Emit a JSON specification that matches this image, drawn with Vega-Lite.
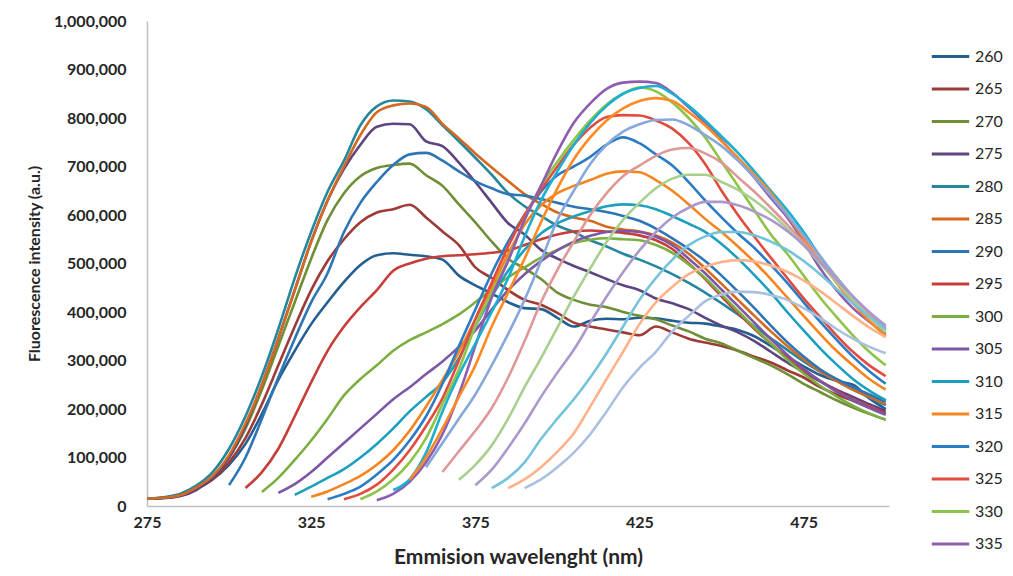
{
"$schema":"https://vega.github.io/schema/vega-lite/v6.json",
"width":742,"height":485,
"autosize":{"type":"none"},
"padding":{"left":147,"top":21,"right":124,"bottom":70},
"background":"white",
"data":{"values":[
{"e":260,"w":275,"v":15000},{"e":260,"w":280,"v":17000},{"e":260,"w":285,"v":23000},{"e":260,"w":290,"v":36000},{"e":260,"w":295,"v":55000},{"e":260,"w":300,"v":85000},{"e":260,"w":305,"v":128000},{"e":260,"w":310,"v":190000},{"e":260,"w":315,"v":260000},{"e":260,"w":320,"v":320000},{"e":260,"w":325,"v":375000},{"e":260,"w":330,"v":420000},{"e":260,"w":335,"v":462000},{"e":260,"w":340,"v":497000},{"e":260,"w":345,"v":517000},{"e":260,"w":350,"v":521000},{"e":260,"w":355,"v":518000},{"e":260,"w":360,"v":515000},{"e":260,"w":365,"v":508000},{"e":260,"w":370,"v":475000},{"e":260,"w":375,"v":455000},{"e":260,"w":380,"v":438000},{"e":260,"w":385,"v":420000},{"e":260,"w":390,"v":408000},{"e":260,"w":395,"v":406000},{"e":260,"w":400,"v":388000},{"e":260,"w":405,"v":370000},{"e":260,"w":410,"v":382000},{"e":260,"w":415,"v":386000},{"e":260,"w":420,"v":385000},{"e":260,"w":425,"v":388000},{"e":260,"w":430,"v":387000},{"e":260,"w":435,"v":382000},{"e":260,"w":440,"v":378000},{"e":260,"w":445,"v":376000},{"e":260,"w":450,"v":370000},{"e":260,"w":455,"v":363000},{"e":260,"w":460,"v":350000},{"e":260,"w":465,"v":330000},{"e":260,"w":470,"v":308000},{"e":260,"w":475,"v":288000},{"e":260,"w":480,"v":270000},{"e":260,"w":485,"v":258000},{"e":260,"w":490,"v":250000},{"e":260,"w":495,"v":222000},{"e":260,"w":500,"v":200000},
{"e":265,"w":275,"v":15000},{"e":265,"w":280,"v":17000},{"e":265,"w":285,"v":22000},{"e":265,"w":290,"v":35000},{"e":265,"w":295,"v":55000},{"e":265,"w":300,"v":90000},{"e":265,"w":305,"v":140000},{"e":265,"w":310,"v":210000},{"e":265,"w":315,"v":290000},{"e":265,"w":320,"v":370000},{"e":265,"w":325,"v":445000},{"e":265,"w":330,"v":505000},{"e":265,"w":335,"v":550000},{"e":265,"w":340,"v":585000},{"e":265,"w":345,"v":605000},{"e":265,"w":350,"v":612000},{"e":265,"w":355,"v":621000},{"e":265,"w":360,"v":595000},{"e":265,"w":365,"v":566000},{"e":265,"w":370,"v":538000},{"e":265,"w":375,"v":492000},{"e":265,"w":380,"v":470000},{"e":265,"w":385,"v":445000},{"e":265,"w":390,"v":425000},{"e":265,"w":395,"v":415000},{"e":265,"w":400,"v":398000},{"e":265,"w":405,"v":378000},{"e":265,"w":410,"v":370000},{"e":265,"w":415,"v":364000},{"e":265,"w":420,"v":358000},{"e":265,"w":425,"v":352000},{"e":265,"w":430,"v":370000},{"e":265,"w":435,"v":358000},{"e":265,"w":440,"v":345000},{"e":265,"w":445,"v":337000},{"e":265,"w":450,"v":330000},{"e":265,"w":455,"v":320000},{"e":265,"w":460,"v":308000},{"e":265,"w":465,"v":296000},{"e":265,"w":470,"v":280000},{"e":265,"w":475,"v":265000},{"e":265,"w":480,"v":245000},{"e":265,"w":485,"v":230000},{"e":265,"w":490,"v":217000},{"e":265,"w":495,"v":203000},{"e":265,"w":500,"v":192000},
{"e":270,"w":275,"v":15000},{"e":270,"w":280,"v":17000},{"e":270,"w":285,"v":22000},{"e":270,"w":290,"v":37000},{"e":270,"w":295,"v":60000},{"e":270,"w":300,"v":100000},{"e":270,"w":305,"v":160000},{"e":270,"w":310,"v":240000},{"e":270,"w":315,"v":330000},{"e":270,"w":320,"v":420000},{"e":270,"w":325,"v":510000},{"e":270,"w":330,"v":590000},{"e":270,"w":335,"v":645000},{"e":270,"w":340,"v":680000},{"e":270,"w":345,"v":697000},{"e":270,"w":350,"v":703000},{"e":270,"w":355,"v":706000},{"e":270,"w":360,"v":682000},{"e":270,"w":365,"v":660000},{"e":270,"w":370,"v":622000},{"e":270,"w":375,"v":585000},{"e":270,"w":380,"v":545000},{"e":270,"w":385,"v":510000},{"e":270,"w":390,"v":490000},{"e":270,"w":395,"v":468000},{"e":270,"w":400,"v":440000},{"e":270,"w":405,"v":425000},{"e":270,"w":410,"v":415000},{"e":270,"w":415,"v":410000},{"e":270,"w":420,"v":400000},{"e":270,"w":425,"v":392000},{"e":270,"w":430,"v":385000},{"e":270,"w":435,"v":372000},{"e":270,"w":440,"v":360000},{"e":270,"w":445,"v":345000},{"e":270,"w":450,"v":335000},{"e":270,"w":455,"v":320000},{"e":270,"w":460,"v":305000},{"e":270,"w":465,"v":290000},{"e":270,"w":470,"v":272000},{"e":270,"w":475,"v":252000},{"e":270,"w":480,"v":235000},{"e":270,"w":485,"v":218000},{"e":270,"w":490,"v":203000},{"e":270,"w":495,"v":190000},{"e":270,"w":500,"v":178000},
{"e":275,"w":275,"v":15000},{"e":275,"w":280,"v":16000},{"e":275,"w":285,"v":20000},{"e":275,"w":290,"v":33000},{"e":275,"w":295,"v":58000},{"e":275,"w":300,"v":100000},{"e":275,"w":305,"v":165000},{"e":275,"w":310,"v":250000},{"e":275,"w":315,"v":345000},{"e":275,"w":320,"v":445000},{"e":275,"w":325,"v":545000},{"e":275,"w":330,"v":630000},{"e":275,"w":335,"v":695000},{"e":275,"w":340,"v":745000},{"e":275,"w":345,"v":782000},{"e":275,"w":350,"v":788000},{"e":275,"w":355,"v":787000},{"e":275,"w":360,"v":752000},{"e":275,"w":365,"v":742000},{"e":275,"w":370,"v":708000},{"e":275,"w":375,"v":668000},{"e":275,"w":380,"v":625000},{"e":275,"w":385,"v":583000},{"e":275,"w":390,"v":560000},{"e":275,"w":395,"v":528000},{"e":275,"w":400,"v":510000},{"e":275,"w":405,"v":495000},{"e":275,"w":410,"v":482000},{"e":275,"w":415,"v":468000},{"e":275,"w":420,"v":455000},{"e":275,"w":425,"v":445000},{"e":275,"w":430,"v":428000},{"e":275,"w":435,"v":418000},{"e":275,"w":440,"v":406000},{"e":275,"w":445,"v":388000},{"e":275,"w":450,"v":372000},{"e":275,"w":455,"v":358000},{"e":275,"w":460,"v":340000},{"e":275,"w":465,"v":318000},{"e":275,"w":470,"v":296000},{"e":275,"w":475,"v":276000},{"e":275,"w":480,"v":257000},{"e":275,"w":485,"v":240000},{"e":275,"w":490,"v":225000},{"e":275,"w":495,"v":210000},{"e":275,"w":500,"v":196000},
{"e":280,"w":275,"v":15000},{"e":280,"w":280,"v":18000},{"e":280,"w":285,"v":25000},{"e":280,"w":290,"v":42000},{"e":280,"w":295,"v":70000},{"e":280,"w":300,"v":118000},{"e":280,"w":305,"v":185000},{"e":280,"w":310,"v":268000},{"e":280,"w":315,"v":365000},{"e":280,"w":320,"v":470000},{"e":280,"w":325,"v":565000},{"e":280,"w":330,"v":648000},{"e":280,"w":335,"v":712000},{"e":280,"w":340,"v":785000},{"e":280,"w":345,"v":824000},{"e":280,"w":350,"v":836000},{"e":280,"w":355,"v":834000},{"e":280,"w":360,"v":818000},{"e":280,"w":365,"v":785000},{"e":280,"w":370,"v":752000},{"e":280,"w":375,"v":718000},{"e":280,"w":380,"v":683000},{"e":280,"w":385,"v":645000},{"e":280,"w":390,"v":618000},{"e":280,"w":395,"v":598000},{"e":280,"w":400,"v":578000},{"e":280,"w":405,"v":565000},{"e":280,"w":410,"v":548000},{"e":280,"w":415,"v":535000},{"e":280,"w":420,"v":520000},{"e":280,"w":425,"v":508000},{"e":280,"w":430,"v":494000},{"e":280,"w":435,"v":478000},{"e":280,"w":440,"v":460000},{"e":280,"w":445,"v":440000},{"e":280,"w":450,"v":418000},{"e":280,"w":455,"v":395000},{"e":280,"w":460,"v":370000},{"e":280,"w":465,"v":346000},{"e":280,"w":470,"v":322000},{"e":280,"w":475,"v":298000},{"e":280,"w":480,"v":277000},{"e":280,"w":485,"v":258000},{"e":280,"w":490,"v":240000},{"e":280,"w":495,"v":224000},{"e":280,"w":500,"v":208000},
{"e":285,"w":275,"v":15000},{"e":285,"w":280,"v":17000},{"e":285,"w":285,"v":22000},{"e":285,"w":290,"v":38000},{"e":285,"w":295,"v":62000},{"e":285,"w":300,"v":105000},{"e":285,"w":305,"v":170000},{"e":285,"w":310,"v":250000},{"e":285,"w":315,"v":345000},{"e":285,"w":320,"v":445000},{"e":285,"w":325,"v":545000},{"e":285,"w":330,"v":630000},{"e":285,"w":335,"v":700000},{"e":285,"w":340,"v":765000},{"e":285,"w":345,"v":812000},{"e":285,"w":350,"v":826000},{"e":285,"w":355,"v":830000},{"e":285,"w":360,"v":823000},{"e":285,"w":365,"v":788000},{"e":285,"w":370,"v":758000},{"e":285,"w":375,"v":727000},{"e":285,"w":380,"v":698000},{"e":285,"w":385,"v":670000},{"e":285,"w":390,"v":643000},{"e":285,"w":395,"v":623000},{"e":285,"w":400,"v":605000},{"e":285,"w":405,"v":595000},{"e":285,"w":410,"v":588000},{"e":285,"w":415,"v":576000},{"e":285,"w":420,"v":570000},{"e":285,"w":425,"v":566000},{"e":285,"w":430,"v":558000},{"e":285,"w":435,"v":543000},{"e":285,"w":440,"v":520000},{"e":285,"w":445,"v":490000},{"e":285,"w":450,"v":458000},{"e":285,"w":455,"v":425000},{"e":285,"w":460,"v":392000},{"e":285,"w":465,"v":360000},{"e":285,"w":470,"v":330000},{"e":285,"w":475,"v":302000},{"e":285,"w":480,"v":278000},{"e":285,"w":485,"v":258000},{"e":285,"w":490,"v":240000},{"e":285,"w":495,"v":225000},{"e":285,"w":500,"v":210000},
{"e":290,"w":300,"v":43000},{"e":290,"w":305,"v":100000},{"e":290,"w":310,"v":180000},{"e":290,"w":315,"v":265000},{"e":290,"w":320,"v":345000},{"e":290,"w":325,"v":420000},{"e":290,"w":330,"v":480000},{"e":290,"w":335,"v":565000},{"e":290,"w":340,"v":625000},{"e":290,"w":345,"v":668000},{"e":290,"w":350,"v":703000},{"e":290,"w":355,"v":725000},{"e":290,"w":360,"v":728000},{"e":290,"w":365,"v":712000},{"e":290,"w":370,"v":690000},{"e":290,"w":375,"v":670000},{"e":290,"w":380,"v":655000},{"e":290,"w":385,"v":643000},{"e":290,"w":390,"v":640000},{"e":290,"w":395,"v":633000},{"e":290,"w":400,"v":625000},{"e":290,"w":405,"v":617000},{"e":290,"w":410,"v":612000},{"e":290,"w":415,"v":606000},{"e":290,"w":420,"v":598000},{"e":290,"w":425,"v":588000},{"e":290,"w":430,"v":572000},{"e":290,"w":435,"v":552000},{"e":290,"w":440,"v":530000},{"e":290,"w":445,"v":505000},{"e":290,"w":450,"v":475000},{"e":290,"w":455,"v":442000},{"e":290,"w":460,"v":408000},{"e":290,"w":465,"v":372000},{"e":290,"w":470,"v":338000},{"e":290,"w":475,"v":308000},{"e":290,"w":480,"v":282000},{"e":290,"w":485,"v":262000},{"e":290,"w":490,"v":245000},{"e":290,"w":495,"v":230000},{"e":290,"w":500,"v":215000},
{"e":295,"w":305,"v":37000},{"e":295,"w":310,"v":70000},{"e":295,"w":315,"v":118000},{"e":295,"w":320,"v":185000},{"e":295,"w":325,"v":255000},{"e":295,"w":330,"v":320000},{"e":295,"w":335,"v":370000},{"e":295,"w":340,"v":410000},{"e":295,"w":345,"v":445000},{"e":295,"w":350,"v":485000},{"e":295,"w":355,"v":500000},{"e":295,"w":360,"v":510000},{"e":295,"w":365,"v":515000},{"e":295,"w":370,"v":517000},{"e":295,"w":375,"v":519000},{"e":295,"w":380,"v":522000},{"e":295,"w":385,"v":527000},{"e":295,"w":390,"v":538000},{"e":295,"w":395,"v":550000},{"e":295,"w":400,"v":560000},{"e":295,"w":405,"v":566000},{"e":295,"w":410,"v":568000},{"e":295,"w":415,"v":566000},{"e":295,"w":420,"v":563000},{"e":295,"w":425,"v":558000},{"e":295,"w":430,"v":548000},{"e":295,"w":435,"v":530000},{"e":295,"w":440,"v":500000},{"e":295,"w":445,"v":468000},{"e":295,"w":450,"v":432000},{"e":295,"w":455,"v":398000},{"e":295,"w":460,"v":365000},{"e":295,"w":465,"v":335000},{"e":295,"w":470,"v":305000},{"e":295,"w":475,"v":280000},{"e":295,"w":480,"v":258000},{"e":295,"w":485,"v":238000},{"e":295,"w":490,"v":220000},{"e":295,"w":495,"v":205000},{"e":295,"w":500,"v":190000},
{"e":300,"w":310,"v":29000},{"e":300,"w":315,"v":58000},{"e":300,"w":320,"v":95000},{"e":300,"w":325,"v":135000},{"e":300,"w":330,"v":180000},{"e":300,"w":335,"v":228000},{"e":300,"w":340,"v":262000},{"e":300,"w":345,"v":290000},{"e":300,"w":350,"v":320000},{"e":300,"w":355,"v":342000},{"e":300,"w":360,"v":358000},{"e":300,"w":365,"v":375000},{"e":300,"w":370,"v":395000},{"e":300,"w":375,"v":420000},{"e":300,"w":380,"v":447000},{"e":300,"w":385,"v":472000},{"e":300,"w":390,"v":492000},{"e":300,"w":395,"v":512000},{"e":300,"w":400,"v":528000},{"e":300,"w":405,"v":542000},{"e":300,"w":410,"v":549000},{"e":300,"w":415,"v":552000},{"e":300,"w":420,"v":550000},{"e":300,"w":425,"v":548000},{"e":300,"w":430,"v":538000},{"e":300,"w":435,"v":522000},{"e":300,"w":440,"v":498000},{"e":300,"w":445,"v":470000},{"e":300,"w":450,"v":436000},{"e":300,"w":455,"v":402000},{"e":300,"w":460,"v":368000},{"e":300,"w":465,"v":335000},{"e":300,"w":470,"v":302000},{"e":300,"w":475,"v":273000},{"e":300,"w":480,"v":248000},{"e":300,"w":485,"v":226000},{"e":300,"w":490,"v":207000},{"e":300,"w":495,"v":191000},{"e":300,"w":500,"v":178000},
{"e":305,"w":315,"v":27000},{"e":305,"w":320,"v":45000},{"e":305,"w":325,"v":70000},{"e":305,"w":330,"v":100000},{"e":305,"w":335,"v":130000},{"e":305,"w":340,"v":160000},{"e":305,"w":345,"v":190000},{"e":305,"w":350,"v":220000},{"e":305,"w":355,"v":245000},{"e":305,"w":360,"v":272000},{"e":305,"w":365,"v":298000},{"e":305,"w":370,"v":328000},{"e":305,"w":375,"v":362000},{"e":305,"w":380,"v":405000},{"e":305,"w":385,"v":445000},{"e":305,"w":390,"v":478000},{"e":305,"w":395,"v":505000},{"e":305,"w":400,"v":527000},{"e":305,"w":405,"v":545000},{"e":305,"w":410,"v":557000},{"e":305,"w":415,"v":565000},{"e":305,"w":420,"v":567000},{"e":305,"w":425,"v":565000},{"e":305,"w":430,"v":555000},{"e":305,"w":435,"v":538000},{"e":305,"w":440,"v":510000},{"e":305,"w":445,"v":480000},{"e":305,"w":450,"v":446000},{"e":305,"w":455,"v":412000},{"e":305,"w":460,"v":378000},{"e":305,"w":465,"v":344000},{"e":305,"w":470,"v":312000},{"e":305,"w":475,"v":283000},{"e":305,"w":480,"v":258000},{"e":305,"w":485,"v":236000},{"e":305,"w":490,"v":218000},{"e":305,"w":495,"v":202000},{"e":305,"w":500,"v":188000},
{"e":310,"w":320,"v":23000},{"e":310,"w":325,"v":40000},{"e":310,"w":330,"v":58000},{"e":310,"w":335,"v":76000},{"e":310,"w":340,"v":100000},{"e":310,"w":345,"v":128000},{"e":310,"w":350,"v":160000},{"e":310,"w":355,"v":195000},{"e":310,"w":360,"v":225000},{"e":310,"w":365,"v":255000},{"e":310,"w":370,"v":305000},{"e":310,"w":375,"v":370000},{"e":310,"w":380,"v":432000},{"e":310,"w":385,"v":485000},{"e":310,"w":390,"v":528000},{"e":310,"w":395,"v":562000},{"e":310,"w":400,"v":583000},{"e":310,"w":405,"v":597000},{"e":310,"w":410,"v":608000},{"e":310,"w":415,"v":618000},{"e":310,"w":420,"v":622000},{"e":310,"w":425,"v":620000},{"e":310,"w":430,"v":612000},{"e":310,"w":435,"v":598000},{"e":310,"w":440,"v":582000},{"e":310,"w":445,"v":565000},{"e":310,"w":450,"v":540000},{"e":310,"w":455,"v":510000},{"e":310,"w":460,"v":476000},{"e":310,"w":465,"v":440000},{"e":310,"w":470,"v":400000},{"e":310,"w":475,"v":362000},{"e":310,"w":480,"v":325000},{"e":310,"w":485,"v":292000},{"e":310,"w":490,"v":262000},{"e":310,"w":495,"v":238000},{"e":310,"w":500,"v":218000},
{"e":315,"w":325,"v":19000},{"e":315,"w":330,"v":30000},{"e":315,"w":335,"v":45000},{"e":315,"w":340,"v":62000},{"e":315,"w":345,"v":85000},{"e":315,"w":350,"v":115000},{"e":315,"w":355,"v":155000},{"e":315,"w":360,"v":205000},{"e":315,"w":365,"v":260000},{"e":315,"w":370,"v":318000},{"e":315,"w":375,"v":385000},{"e":315,"w":380,"v":450000},{"e":315,"w":385,"v":520000},{"e":315,"w":390,"v":580000},{"e":315,"w":395,"v":620000},{"e":315,"w":400,"v":645000},{"e":315,"w":405,"v":660000},{"e":315,"w":410,"v":672000},{"e":315,"w":415,"v":685000},{"e":315,"w":420,"v":690000},{"e":315,"w":425,"v":688000},{"e":315,"w":430,"v":672000},{"e":315,"w":435,"v":650000},{"e":315,"w":440,"v":622000},{"e":315,"w":445,"v":592000},{"e":315,"w":450,"v":565000},{"e":315,"w":455,"v":535000},{"e":315,"w":460,"v":503000},{"e":315,"w":465,"v":468000},{"e":315,"w":470,"v":430000},{"e":315,"w":475,"v":392000},{"e":315,"w":480,"v":355000},{"e":315,"w":485,"v":320000},{"e":315,"w":490,"v":290000},{"e":315,"w":495,"v":262000},{"e":315,"w":500,"v":240000},
{"e":320,"w":330,"v":14000},{"e":320,"w":335,"v":25000},{"e":320,"w":340,"v":40000},{"e":320,"w":345,"v":65000},{"e":320,"w":350,"v":95000},{"e":320,"w":355,"v":135000},{"e":320,"w":360,"v":185000},{"e":320,"w":365,"v":252000},{"e":320,"w":370,"v":330000},{"e":320,"w":375,"v":405000},{"e":320,"w":380,"v":480000},{"e":320,"w":385,"v":545000},{"e":320,"w":390,"v":600000},{"e":320,"w":395,"v":648000},{"e":320,"w":400,"v":682000},{"e":320,"w":405,"v":700000},{"e":320,"w":410,"v":720000},{"e":320,"w":415,"v":745000},{"e":320,"w":420,"v":760000},{"e":320,"w":425,"v":748000},{"e":320,"w":430,"v":725000},{"e":320,"w":435,"v":702000},{"e":320,"w":440,"v":668000},{"e":320,"w":445,"v":630000},{"e":320,"w":450,"v":595000},{"e":320,"w":455,"v":562000},{"e":320,"w":460,"v":532000},{"e":320,"w":465,"v":497000},{"e":320,"w":470,"v":460000},{"e":320,"w":475,"v":420000},{"e":320,"w":480,"v":380000},{"e":320,"w":485,"v":343000},{"e":320,"w":490,"v":308000},{"e":320,"w":495,"v":278000},{"e":320,"w":500,"v":252000},
{"e":325,"w":335,"v":14000},{"e":325,"w":340,"v":25000},{"e":325,"w":345,"v":44000},{"e":325,"w":350,"v":75000},{"e":325,"w":355,"v":115000},{"e":325,"w":360,"v":165000},{"e":325,"w":365,"v":222000},{"e":325,"w":370,"v":300000},{"e":325,"w":375,"v":385000},{"e":325,"w":380,"v":460000},{"e":325,"w":385,"v":535000},{"e":325,"w":390,"v":600000},{"e":325,"w":395,"v":652000},{"e":325,"w":400,"v":700000},{"e":325,"w":405,"v":745000},{"e":325,"w":410,"v":780000},{"e":325,"w":415,"v":802000},{"e":325,"w":420,"v":806000},{"e":325,"w":425,"v":805000},{"e":325,"w":430,"v":795000},{"e":325,"w":435,"v":778000},{"e":325,"w":440,"v":748000},{"e":325,"w":445,"v":705000},{"e":325,"w":450,"v":650000},{"e":325,"w":455,"v":600000},{"e":325,"w":460,"v":555000},{"e":325,"w":465,"v":512000},{"e":325,"w":470,"v":470000},{"e":325,"w":475,"v":428000},{"e":325,"w":480,"v":390000},{"e":325,"w":485,"v":352000},{"e":325,"w":490,"v":318000},{"e":325,"w":495,"v":290000},{"e":325,"w":500,"v":268000},
{"e":330,"w":340,"v":14000},{"e":330,"w":345,"v":30000},{"e":330,"w":350,"v":55000},{"e":330,"w":355,"v":90000},{"e":330,"w":360,"v":140000},{"e":330,"w":365,"v":210000},{"e":330,"w":370,"v":282000},{"e":330,"w":375,"v":370000},{"e":330,"w":380,"v":440000},{"e":330,"w":385,"v":508000},{"e":330,"w":390,"v":590000},{"e":330,"w":395,"v":660000},{"e":330,"w":400,"v":710000},{"e":330,"w":405,"v":755000},{"e":330,"w":410,"v":795000},{"e":330,"w":415,"v":828000},{"e":330,"w":420,"v":850000},{"e":330,"w":425,"v":863000},{"e":330,"w":430,"v":855000},{"e":330,"w":435,"v":832000},{"e":330,"w":440,"v":800000},{"e":330,"w":445,"v":760000},{"e":330,"w":450,"v":710000},{"e":330,"w":455,"v":660000},{"e":330,"w":460,"v":610000},{"e":330,"w":465,"v":560000},{"e":330,"w":470,"v":520000},{"e":330,"w":475,"v":475000},{"e":330,"w":480,"v":430000},{"e":330,"w":485,"v":390000},{"e":330,"w":490,"v":352000},{"e":330,"w":495,"v":318000},{"e":330,"w":500,"v":290000},
{"e":335,"w":345,"v":12000},{"e":335,"w":350,"v":25000},{"e":335,"w":355,"v":50000},{"e":335,"w":360,"v":90000},{"e":335,"w":365,"v":148000},{"e":335,"w":370,"v":230000},{"e":335,"w":375,"v":330000},{"e":335,"w":380,"v":430000},{"e":335,"w":385,"v":505000},{"e":335,"w":390,"v":590000},{"e":335,"w":395,"v":660000},{"e":335,"w":400,"v":730000},{"e":335,"w":405,"v":790000},{"e":335,"w":410,"v":830000},{"e":335,"w":415,"v":860000},{"e":335,"w":420,"v":873000},{"e":335,"w":425,"v":875000},{"e":335,"w":430,"v":872000},{"e":335,"w":435,"v":852000},{"e":335,"w":440,"v":822000},{"e":335,"w":445,"v":790000},{"e":335,"w":450,"v":755000},{"e":335,"w":455,"v":715000},{"e":335,"w":460,"v":677000},{"e":335,"w":465,"v":635000},{"e":335,"w":470,"v":595000},{"e":335,"w":475,"v":545000},{"e":335,"w":480,"v":490000},{"e":335,"w":485,"v":445000},{"e":335,"w":490,"v":408000},{"e":335,"w":495,"v":380000},{"e":335,"w":500,"v":355000},
{"e":340,"w":350,"v":33000},{"e":340,"w":355,"v":55000},{"e":340,"w":360,"v":110000},{"e":340,"w":365,"v":195000},{"e":340,"w":370,"v":270000},{"e":340,"w":375,"v":335000},{"e":340,"w":380,"v":400000},{"e":340,"w":385,"v":470000},{"e":340,"w":390,"v":555000},{"e":340,"w":395,"v":630000},{"e":340,"w":400,"v":690000},{"e":340,"w":405,"v":745000},{"e":340,"w":410,"v":790000},{"e":340,"w":415,"v":825000},{"e":340,"w":420,"v":850000},{"e":340,"w":425,"v":862000},{"e":340,"w":430,"v":866000},{"e":340,"w":435,"v":850000},{"e":340,"w":440,"v":825000},{"e":340,"w":445,"v":795000},{"e":340,"w":450,"v":762000},{"e":340,"w":455,"v":728000},{"e":340,"w":460,"v":690000},{"e":340,"w":465,"v":650000},{"e":340,"w":470,"v":610000},{"e":340,"w":475,"v":565000},{"e":340,"w":480,"v":515000},{"e":340,"w":485,"v":470000},{"e":340,"w":490,"v":430000},{"e":340,"w":495,"v":395000},{"e":340,"w":500,"v":365000},
{"e":345,"w":355,"v":54000},{"e":345,"w":360,"v":100000},{"e":345,"w":365,"v":160000},{"e":345,"w":370,"v":225000},{"e":345,"w":375,"v":290000},{"e":345,"w":380,"v":370000},{"e":345,"w":385,"v":440000},{"e":345,"w":390,"v":510000},{"e":345,"w":395,"v":585000},{"e":345,"w":400,"v":655000},{"e":345,"w":405,"v":715000},{"e":345,"w":410,"v":760000},{"e":345,"w":415,"v":795000},{"e":345,"w":420,"v":820000},{"e":345,"w":425,"v":835000},{"e":345,"w":430,"v":841000},{"e":345,"w":435,"v":835000},{"e":345,"w":440,"v":812000},{"e":345,"w":445,"v":785000},{"e":345,"w":450,"v":752000},{"e":345,"w":455,"v":718000},{"e":345,"w":460,"v":683000},{"e":345,"w":465,"v":645000},{"e":345,"w":470,"v":600000},{"e":345,"w":475,"v":552000},{"e":345,"w":480,"v":505000},{"e":345,"w":485,"v":460000},{"e":345,"w":490,"v":418000},{"e":345,"w":495,"v":382000},{"e":345,"w":500,"v":350000},
{"e":350,"w":360,"v":80000},{"e":350,"w":365,"v":130000},{"e":350,"w":370,"v":180000},{"e":350,"w":375,"v":230000},{"e":350,"w":380,"v":290000},{"e":350,"w":385,"v":355000},{"e":350,"w":390,"v":425000},{"e":350,"w":395,"v":505000},{"e":350,"w":400,"v":590000},{"e":350,"w":405,"v":650000},{"e":350,"w":410,"v":705000},{"e":350,"w":415,"v":745000},{"e":350,"w":420,"v":772000},{"e":350,"w":425,"v":787000},{"e":350,"w":430,"v":796000},{"e":350,"w":435,"v":797000},{"e":350,"w":440,"v":785000},{"e":350,"w":445,"v":765000},{"e":350,"w":450,"v":742000},{"e":350,"w":455,"v":712000},{"e":350,"w":460,"v":678000},{"e":350,"w":465,"v":640000},{"e":350,"w":470,"v":600000},{"e":350,"w":475,"v":558000},{"e":350,"w":480,"v":515000},{"e":350,"w":485,"v":472000},{"e":350,"w":490,"v":432000},{"e":350,"w":495,"v":398000},{"e":350,"w":500,"v":368000},
{"e":355,"w":365,"v":70000},{"e":355,"w":370,"v":113000},{"e":355,"w":375,"v":155000},{"e":355,"w":380,"v":202000},{"e":355,"w":385,"v":265000},{"e":355,"w":390,"v":340000},{"e":355,"w":395,"v":420000},{"e":355,"w":400,"v":487000},{"e":355,"w":405,"v":545000},{"e":355,"w":410,"v":600000},{"e":355,"w":415,"v":645000},{"e":355,"w":420,"v":680000},{"e":355,"w":425,"v":702000},{"e":355,"w":430,"v":722000},{"e":355,"w":435,"v":735000},{"e":355,"w":440,"v":738000},{"e":355,"w":445,"v":727000},{"e":355,"w":450,"v":708000},{"e":355,"w":455,"v":678000},{"e":355,"w":460,"v":648000},{"e":355,"w":465,"v":615000},{"e":355,"w":470,"v":580000},{"e":355,"w":475,"v":543000},{"e":355,"w":480,"v":505000},{"e":355,"w":485,"v":468000},{"e":355,"w":490,"v":430000},{"e":355,"w":495,"v":395000},{"e":355,"w":500,"v":362000},
{"e":360,"w":370,"v":54000},{"e":360,"w":375,"v":85000},{"e":360,"w":380,"v":125000},{"e":360,"w":385,"v":180000},{"e":360,"w":390,"v":245000},{"e":360,"w":395,"v":305000},{"e":360,"w":400,"v":368000},{"e":360,"w":405,"v":432000},{"e":360,"w":410,"v":490000},{"e":360,"w":415,"v":545000},{"e":360,"w":420,"v":590000},{"e":360,"w":425,"v":625000},{"e":360,"w":430,"v":655000},{"e":360,"w":435,"v":675000},{"e":360,"w":440,"v":683000},{"e":360,"w":445,"v":683000},{"e":360,"w":450,"v":668000},{"e":360,"w":455,"v":652000},{"e":360,"w":460,"v":630000},{"e":360,"w":465,"v":603000},{"e":360,"w":470,"v":572000},{"e":360,"w":475,"v":538000},{"e":360,"w":480,"v":500000},{"e":360,"w":485,"v":462000},{"e":360,"w":490,"v":425000},{"e":360,"w":495,"v":390000},{"e":360,"w":500,"v":358000},
{"e":365,"w":375,"v":43000},{"e":365,"w":380,"v":75000},{"e":365,"w":385,"v":120000},{"e":365,"w":390,"v":170000},{"e":365,"w":395,"v":225000},{"e":365,"w":400,"v":275000},{"e":365,"w":405,"v":322000},{"e":365,"w":410,"v":378000},{"e":365,"w":415,"v":432000},{"e":365,"w":420,"v":482000},{"e":365,"w":425,"v":527000},{"e":365,"w":430,"v":565000},{"e":365,"w":435,"v":595000},{"e":365,"w":440,"v":615000},{"e":365,"w":445,"v":627000},{"e":365,"w":450,"v":627000},{"e":365,"w":455,"v":620000},{"e":365,"w":460,"v":607000},{"e":365,"w":465,"v":590000},{"e":365,"w":470,"v":567000},{"e":365,"w":475,"v":538000},{"e":365,"w":480,"v":503000},{"e":365,"w":485,"v":467000},{"e":365,"w":490,"v":432000},{"e":365,"w":495,"v":400000},{"e":365,"w":500,"v":372000},
{"e":370,"w":380,"v":37000},{"e":370,"w":385,"v":58000},{"e":370,"w":390,"v":90000},{"e":370,"w":395,"v":138000},{"e":370,"w":400,"v":180000},{"e":370,"w":405,"v":220000},{"e":370,"w":410,"v":265000},{"e":370,"w":415,"v":315000},{"e":370,"w":420,"v":370000},{"e":370,"w":425,"v":425000},{"e":370,"w":430,"v":470000},{"e":370,"w":435,"v":508000},{"e":370,"w":440,"v":538000},{"e":370,"w":445,"v":556000},{"e":370,"w":450,"v":565000},{"e":370,"w":455,"v":565000},{"e":370,"w":460,"v":558000},{"e":370,"w":465,"v":545000},{"e":370,"w":470,"v":528000},{"e":370,"w":475,"v":505000},{"e":370,"w":480,"v":478000},{"e":370,"w":485,"v":448000},{"e":370,"w":490,"v":418000},{"e":370,"w":495,"v":390000},{"e":370,"w":500,"v":365000},
{"e":375,"w":385,"v":37000},{"e":375,"w":390,"v":55000},{"e":375,"w":395,"v":80000},{"e":375,"w":400,"v":112000},{"e":375,"w":405,"v":150000},{"e":375,"w":410,"v":205000},{"e":375,"w":415,"v":262000},{"e":375,"w":420,"v":318000},{"e":375,"w":425,"v":375000},{"e":375,"w":430,"v":420000},{"e":375,"w":435,"v":452000},{"e":375,"w":440,"v":478000},{"e":375,"w":445,"v":493000},{"e":375,"w":450,"v":503000},{"e":375,"w":455,"v":507000},{"e":375,"w":460,"v":504000},{"e":375,"w":465,"v":496000},{"e":375,"w":470,"v":483000},{"e":375,"w":475,"v":465000},{"e":375,"w":480,"v":443000},{"e":375,"w":485,"v":418000},{"e":375,"w":490,"v":392000},{"e":375,"w":495,"v":368000},{"e":375,"w":500,"v":348000},
{"e":380,"w":390,"v":37000},{"e":380,"w":395,"v":55000},{"e":380,"w":400,"v":80000},{"e":380,"w":405,"v":110000},{"e":380,"w":410,"v":148000},{"e":380,"w":415,"v":195000},{"e":380,"w":420,"v":245000},{"e":380,"w":425,"v":285000},{"e":380,"w":430,"v":318000},{"e":380,"w":435,"v":360000},{"e":380,"w":440,"v":392000},{"e":380,"w":445,"v":422000},{"e":380,"w":450,"v":436000},{"e":380,"w":455,"v":442000},{"e":380,"w":460,"v":441000},{"e":380,"w":465,"v":435000},{"e":380,"w":470,"v":425000},{"e":380,"w":475,"v":408000},{"e":380,"w":480,"v":388000},{"e":380,"w":485,"v":365000},{"e":380,"w":490,"v":345000},{"e":380,"w":495,"v":328000},{"e":380,"w":500,"v":315000}
]},
"mark":{"type":"line","interpolate":"monotone","strokeWidth":2.6,"clip":true},
"encoding":{
"x":{"field":"w","type":"quantitative","scale":{"domain":[275,501],"nice":false,"zero":false},
"axis":{"title":"Emmision wavelenght (nm)","values":[275,325,375,425,475],"ticks":false,"grid":false,"labelFlush":false,"domainColor":"#BFBFBF","domainWidth":1.5,"labelFont":"Lato","labelFontWeight":"bold","labelFontSize":16,"labelColor":"#262626","labelPadding":8,"titleFont":"Lato","titleFontSize":21,"titleFontWeight":"bold","titleColor":"#262626","titlePadding":16}},
"y":{"field":"v","type":"quantitative","scale":{"domain":[0,1000000],"nice":false},
"axis":{"title":"Fluorescence intensity (a.u.)","values":[0,100000,200000,300000,400000,500000,600000,700000,800000,900000,1000000],"format":",.0f","ticks":false,"grid":false,"domainColor":"#BFBFBF","domainWidth":1.5,"labelFont":"Lato","labelFontWeight":"bold","labelFontSize":16,"labelColor":"#262626","labelPadding":21,"titleFont":"Lato","titleFontSize":16,"titleFontWeight":"bold","titleColor":"#262626","titlePadding":11}},
"color":{"field":"e","type":"nominal",
"scale":{"domain":[260,265,270,275,280,285,290,295,300,305,310,315,320,325,330,335,340,345,350,355,360,365,370,375,380],
"range":["#255E91","#9E3B37","#6F8F36","#5E4480","#25879D","#D5691F","#2E75B6","#C63D3A","#7CAF42","#7D57A6","#1DA0BE","#F5851F","#2C7CC4","#E24B3F","#8EC449","#8E5DB0","#1BAFD0","#FF8A23","#86A8DA","#DE9897","#A9CF8E","#AC98CB","#73C3DA","#FFB28A","#A9C0E0"]},
"legend":{"title":null,"values":[260,265,270,275,280,285,290,295,300,305,310,315,320,325,330,335],"orient":"none","legendX":783,"legendY":15,"symbolType":"stroke","symbolSize":1400,"symbolStrokeWidth":3,"labelFont":"Lato","labelFontSize":16,"labelColor":"#262626","rowPadding":3.5,"labelOffset":4}}
},
"config":{"view":{"stroke":null},"font":"Lato"}
}
